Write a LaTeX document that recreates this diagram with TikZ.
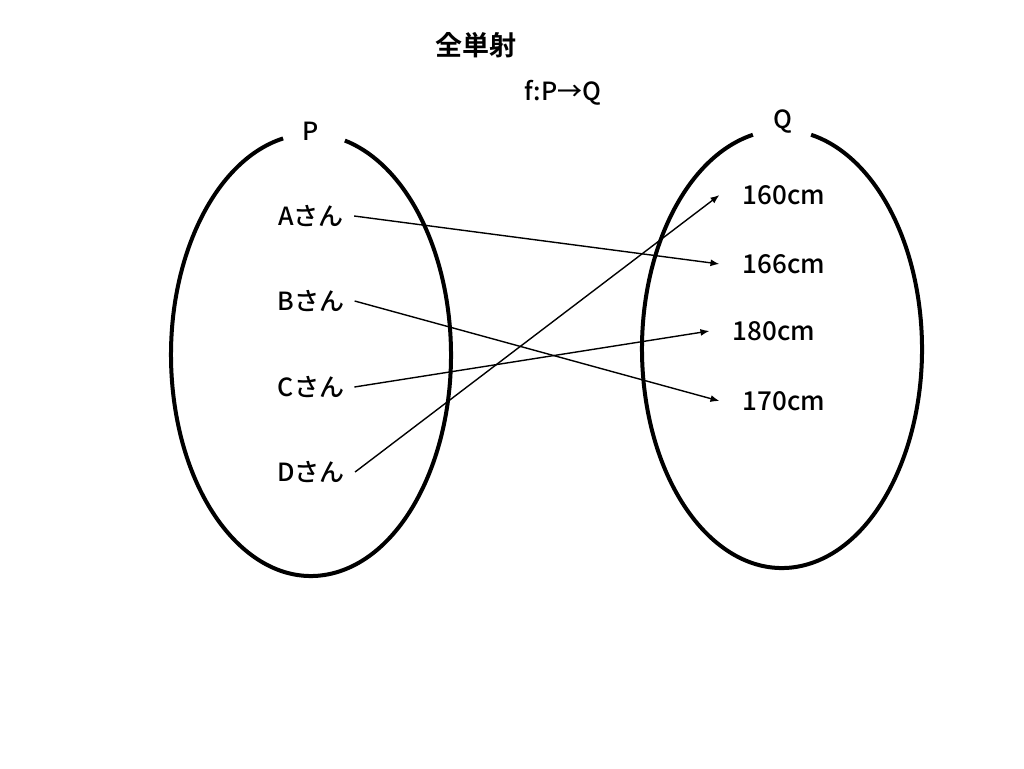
\documentclass[tikz,border=0pt]{standalone}
\usepackage{fontspec}
\setmainfont{Noto Sans CJK JP Medium}[BoldFont=Noto Sans CJK JP Bold]
\usetikzlibrary{positioning}
\usetikzlibrary{arrows.meta}
\tikzset{
	every node/.style={align=center,font=\fontsize{25}{29}\selectfont},
	setline/.style={line width=4pt},
	mapto/.style={-{Latex[length=9pt,width=7pt]},line width=1.4pt},
	elem/.style={outer sep=7pt},
	val/.style={outer sep=20pt,font=\fontsize{26}{30}\selectfont}
}

\begin{document}
\begin{tikzpicture}[x=1pt,y=-1pt]
	\useasboundingbox (0,0) rectangle (1024,768);
	% Title
	\node (title) at (476,45) {\fontsize{27}{31}\selectfont\bfseries 全単射};
	\node (func) at (563,93) {f:P→Q};
	
	% sets
	\draw[setline] (311,355) ++(101.5:140 and -221) arc[start angle=101.5, end angle=436, x radius=140, y radius=-221];
	\draw[setline] (782,349) ++(102:140 and -219) arc[start angle=102, end angle=438, x radius=140, y radius=-219];
	\node (setP) at (311,131) {P};
	\node (setQ) at (783,122) {Q};
	
	% elements
	\node (a) [elem] at (311,216) {Aさん};
	\node (b) [elem] at (311,301) {Bさん};
	\node (c) [elem] at (311,387) {Cさん};
	\node (d) [elem] at (311,472) {Dさん};
	
	\node (h160) [val] at (784,195) {160cm};
	\node (h166) [val] at (784,264) {166cm};
	\node (h180) [val] at (774,331) {180cm};
	\node (h170) [val] at (784,401) {170cm};
	
	\draw[mapto] (a.east) -- (h166.west);
	\draw[mapto] (b.east) -- (h170.west);
	\draw[mapto] (c.east) -- (h180.west);
	\draw[mapto] (d.east) -- (h160.west);
	
\end{tikzpicture}
\end{document}
